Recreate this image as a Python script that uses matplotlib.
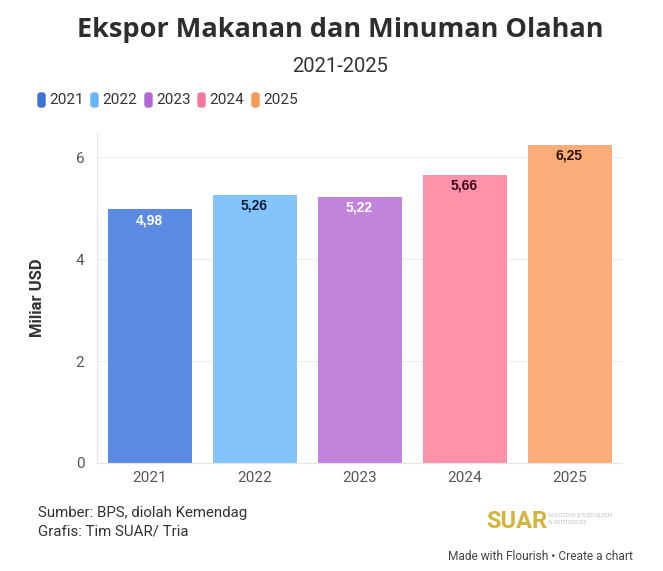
import matplotlib.pyplot as plt
from matplotlib.patches import FancyBboxPatch

years = ['2021', '2022', '2023', '2024', '2025']
values = [4.98, 5.26, 5.22, 5.66, 6.25]
value_labels = ['4,98', '5,26', '5,22', '5,66', '6,25']
bar_colors = ['#5b8ae2', '#85c4fb', '#c283dd', '#fd92aa', '#fbad79']
legend_colors = ['#3f71d6', '#67b4f7', '#b366d6', '#f6799a', '#f69858']
label_colors = ['#ffffff', '#0b1f3a', '#ffffff', '#3a0d16', '#2b1303']
yticks = [0, 2, 4, 6]

plt.rcParams['font.family'] = ['Roboto', 'DejaVu Sans']

fig = plt.figure(figsize=(6.63, 5.71), dpi=100)
ax = fig.add_axes([97 / 663, 1 - 463 / 571, 525 / 663, (463 - 132) / 571])

x = range(len(years))
ax.bar(x, values, width=0.8, color=bar_colors, zorder=2)
for i, v in enumerate(values):
    ax.text(i, v - 0.21, value_labels[i], ha='center', va='center',
            fontsize=10, fontweight='bold', color=label_colors[i],
            family='Liberation Sans', zorder=3)

ax.set_xlim(-0.5, len(years) - 0.5)
ax.set_ylim(0, 6.5)
ax.set_yticks(yticks)
ax.set_xticks(list(x))
ax.set_xticklabels(years)
ax.tick_params(axis='both', length=0, labelsize=11, labelcolor='#555555')
ax.tick_params(axis='y', pad=9)
ax.tick_params(axis='x', pad=6)
ax.grid(axis='y', color='#eeeeee', linewidth=0.8, zorder=0)
for side in ['top', 'right']:
    ax.spines[side].set_visible(False)
for side in ['left', 'bottom']:
    ax.spines[side].set_color('#e6e6e6')
    ax.spines[side].set_linewidth(0.8)
ax.set_ylabel('Miliar USD', fontsize=12, fontweight='bold', color='#333333', labelpad=22)

# title & subtitle
fig.text(340 / 663, 1 - 30 / 571, 'Ekspor Makanan dan Minuman Olahan', ha='center', va='center',
         fontsize=19.5, fontweight='bold', color='#2d2d2d', family='Open Sans')
fig.text(340 / 663, 1 - 66 / 571, '2021-2025', ha='center', va='center',
         fontsize=14.5, color='#333333')

# legend
lx = [38, 91, 145, 198, 252]
for i, yr in enumerate(years):
    box = FancyBboxPatch((lx[i] / 663, 1 - 107 / 571), 7 / 663, 14 / 571,
                         boxstyle='round,pad=0,rounding_size=0.004',
                         transform=fig.transFigure, color=legend_colors[i])
    fig.patches.append(box)
    fig.text((lx[i] + 11) / 663, 1 - 100 / 571, yr, ha='left', va='center',
             fontsize=11, color='#333333')

# footer
fig.text(38 / 663, 1 - 513 / 571, 'Sumber: BPS, diolah Kemendag', ha='left', va='center',
         fontsize=10.8, color='#333333')
fig.text(38 / 663, 1 - 532 / 571, 'Grafis: Tim SUAR/ Tria', ha='left', va='center',
         fontsize=10.8, color='#333333')
fig.text(486 / 663, 1 - 521 / 571, 'SUAR', ha='left', va='center',
         fontsize=17, fontweight='bold', color='#d4b43c')
fig.text(548 / 663, 1 - 516 / 571, 'SOLUTION JOURNALISM', ha='left', va='center',
         fontsize=3.5, color='#bbbbbb', family='DejaVu Serif')
fig.text(548 / 663, 1 - 523 / 571, '& INITIATIVES', ha='left', va='center',
         fontsize=3.5, color='#bbbbbb', family='DejaVu Serif')
fig.text(633 / 663, 1 - 556 / 571, 'Made with Flourish \u2022 Create a chart', ha='right',
         va='center', fontsize=8.6, color='#444444')

fig.savefig('out.png', dpi=100)
